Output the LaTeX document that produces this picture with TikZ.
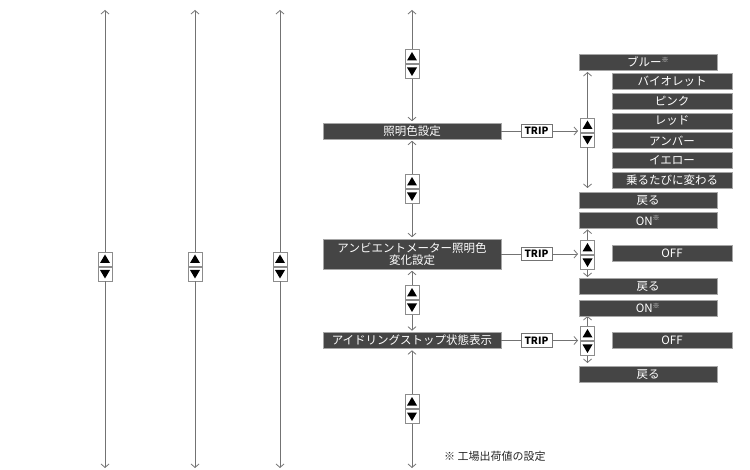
\documentclass[tikz,border=0pt]{standalone}
\usepackage{fontspec}
\setmainfont{Noto Sans CJK JP}
\usetikzlibrary{arrows.meta}
\newcommand\kome{\textsuperscript{\color{black!12}\fontsize{7}{7}\selectfont ※}}
\newcommand\keypair[3]{%
  \node[upkey] (#1u) at (#2,#3-7.5) {};
  \node[downkey] (#1d) at (#2,#3+7.5) {};}
\begin{document}
\begin{tikzpicture}[x=1pt,y=-1pt,
  conn/.style={draw=black!55, line width=0.8pt},
  arr/.style={conn, -{Straight Barb[length=3.5pt,width=8pt]}},
  barr/.style={arr, shorten >=1.5pt},
  darkbar/.style={fill=black!73, draw=black!35, line width=0.6pt, text=white, inner sep=0pt, font=\fontsize{11.5}{12.6}\selectfont},
  mainbar/.style={darkbar, minimum width=178pt, minimum height=16pt},
  widebar/.style={darkbar, minimum width=138pt, minimum height=16pt},
  narrowbar/.style={darkbar, minimum width=120pt, minimum height=16pt},
  tripbox/.style={fill=white, draw=black!55, line width=0.7pt, minimum width=31pt, minimum height=13.5pt, inner sep=0pt, font=\fontsize{10}{12}\selectfont\bfseries},
  keybox/.style={fill=white, draw=black!45, line width=0.7pt, minimum size=14pt, inner sep=0pt},
  upkey/.style={keybox, path picture={\fill[black] ([yshift=4.5pt]path picture bounding box.center) -- ++(5,8.5) -- ++(-10,0) -- cycle;}},
  downkey/.style={keybox, path picture={\fill[black] ([yshift=-4.5pt]path picture bounding box.center) -- ++(5,-8.5) -- ++(-10,0) -- cycle;}}
]
\useasboundingbox (0,0) rectangle (750,470);

% left columns
\foreach \n/\x in {A/105,B/195,C/280}{
  \coordinate (\n top) at (\x,10);
  \coordinate (\n bot) at (\x,468);
  \keypair{\n}{\x}{266.5}
  \draw[arr] (\n u.north) -- (\n top);
  \draw[arr] (\n d.south) -- (\n bot);
}

% main column
\coordinate (mtop) at (412,10);
\coordinate (mbot) at (412,468);
\node[mainbar] (b1) at (412,131) {照明色設定};
\node[mainbar, minimum height=30pt, align=center] (b2) at (412,254) {アンビエントメーター照明色\\変化設定};
\node[mainbar] (b3) at (412,340.5) {アイドリングストップ状態表示};
\keypair{m1}{412}{64}
\keypair{m2}{412}{189}
\keypair{m3}{412}{300}
\keypair{m4}{412}{409}
\draw[arr] (m1u.north) -- (mtop);
\draw[barr] (m1d.south) -- (b1.north);
\draw[barr] (m2u.north) -- (b1.south);
\draw[barr] (m2d.south) -- (b2.north);
\draw[barr] (m3u.north) -- (b2.south);
\draw[barr] (m3d.south) -- (b3.north);
\draw[barr] (m4u.north) -- (b3.south);
\draw[arr] (m4d.south) -- (mbot);

% TRIP
\node[tripbox] (t1) at (536.5,131) {TRIP};
\node[tripbox] (t2) at (536.5,254) {TRIP};
\node[tripbox] (t3) at (536.5,340.5) {TRIP};
\coordinate (r1in) at (578,131);
\coordinate (r2in) at (578,254);
\coordinate (r3in) at (578,340.5);
\draw[conn] (b1.east) -- (t1.west);
\draw[conn] (b2.east) -- (t2.west);
\draw[conn] (b3.east) -- (t3.west);
\draw[arr] (t1.east) -- (r1in);
\draw[arr] (t2.east) -- (r2in);
\draw[arr] (t3.east) -- (r3in);

% right columns
\keypair{r1}{587.5}{132.5}
\keypair{r2}{587.5}{255}
\keypair{r3}{587.5}{341}
\coordinate (r1top) at (587.5,72);
\coordinate (r1bot) at (587.5,188);
\coordinate (r2top) at (587.5,229.5);
\coordinate (r2bot) at (587.5,277);
\coordinate (r3top) at (587.5,316);
\coordinate (r3bot) at (587.5,363);
\draw[arr] (r1u.north) -- (r1top);
\draw[arr] (r1d.south) -- (r1bot);
\draw[arr] (r2u.north) -- (r2top);
\draw[arr] (r2d.south) -- (r2bot);
\draw[arr] (r3u.north) -- (r3top);
\draw[arr] (r3d.south) -- (r3bot);

% options
\node[widebar] (blue) at (648,62) {ブルー\kome};
\node[narrowbar] (violet) at (672,81.3) {バイオレット};
\node[narrowbar] (pink) at (672,101.2) {ピンク};
\node[narrowbar] (red) at (672,121) {レッド};
\node[narrowbar] (amber) at (672,140.7) {アンバー};
\node[narrowbar] (yellow) at (672,160.5) {イエロー};
\node[narrowbar] (change) at (672,180.5) {乗るたびに変わる};
\node[widebar] (back1) at (648,200.5) {戻る};
\node[widebar] (on1) at (648,220.5) {ON\kome};
\node[narrowbar] (off1) at (672,253.7) {OFF};
\node[widebar] (back2) at (648,286.7) {戻る};
\node[widebar] (on2) at (648,308) {ON\kome};
\node[narrowbar] (off2) at (672,340.5) {OFF};
\node[widebar] (back3) at (648,374) {戻る};

% note
\node[font=\fontsize{11}{13}\selectfont, text=black!85, anchor=west, inner sep=0pt] (note) at (444,456) {※ 工場出荷値の設定};
\end{tikzpicture}
\end{document}
